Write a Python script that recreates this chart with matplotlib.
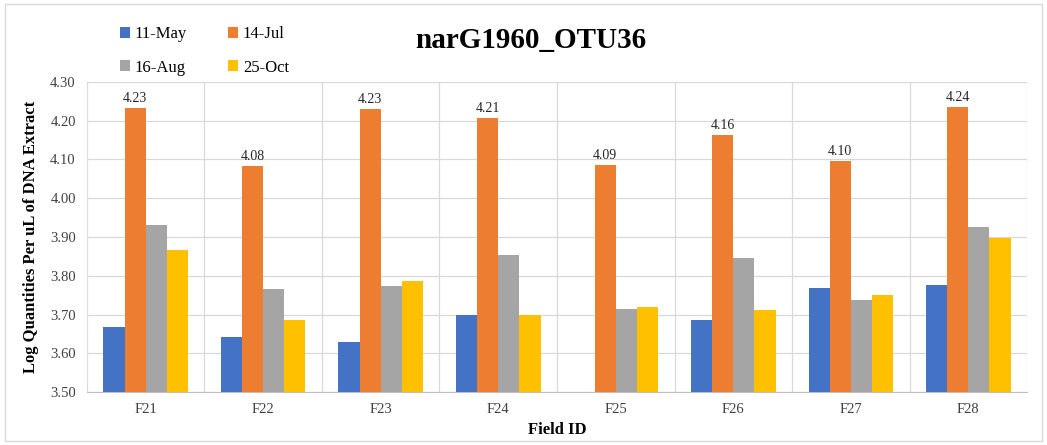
import numpy as np
import matplotlib
matplotlib.use("Agg")
import matplotlib.pyplot as plt

plt.rcParams["font.family"] = ["Liberation Serif", "DejaVu Serif"]

fields = ["F21", "F22", "F23", "F24", "F25", "F26", "F27", "F28"]
may11 = [3.668, 3.642, 3.629, 3.699, np.nan, 3.686, 3.768, 3.776]
jul14 = [4.233, 4.083, 4.230, 4.207, 4.086, 4.163, 4.096, 4.236]
aug16 = [3.931, 3.766, 3.774, 3.854, 3.714, 3.846, 3.737, 3.926]
oct25 = [3.866, 3.686, 3.786, 3.699, 3.719, 3.712, 3.750, 3.897]
series = [("11-May", may11, "#4472C4"), ("14-Jul", jul14, "#ED7D31"),
          ("16-Aug", aug16, "#A5A5A5"), ("25-Oct", oct25, "#FFC000")]
yticks = [3.50, 3.60, 3.70, 3.80, 3.90, 4.00, 4.10, 4.20, 4.30]

fig = plt.figure(figsize=(10.47, 4.45), dpi=100)
ax = fig.add_axes([0.083, 0.119, 0.898, 0.697])

x = np.arange(len(fields))
w = 0.18
base = 3.5
handles = {}
for i, (name, vals, color) in enumerate(series):
    vals = np.array(vals)
    pos = x + (i - 1.5) * w
    handles[name] = ax.bar(pos, vals - base, w, bottom=base, color=color, label=name, zorder=3)
    if name == "14-Jul":
        for p, v in zip(pos, vals):
            ax.text(p, v + 0.008, f"{v:.2f}", ha="center", va="bottom", fontsize=10, color="#262626")

ax.set_xlim(-0.5, len(fields) - 0.5)
ax.set_ylim(3.5, 4.3)
ax.set_yticks(yticks)
ax.set_yticklabels([f"{t:.2f}" for t in yticks])
ax.set_xticks(x)
ax.set_xticklabels(fields)
ax.tick_params(axis="both", length=0, labelsize=10.5, colors="#404040", pad=8)
ax.set_axisbelow(True)
ax.grid(axis="y", color="#D9D9D9", linewidth=0.9)
for xv in np.arange(-0.5, len(fields), 1.0):
    ax.axvline(xv, color="#D9D9D9", linewidth=0.9, zorder=0)
for s in ["top", "right", "left"]:
    ax.spines[s].set_visible(False)
ax.spines["bottom"].set_color("#BFBFBF")

ax.set_xlabel("Field ID", fontsize=12, fontweight="bold", labelpad=4)
ax.set_ylabel("Log Quantities Per uL of DNA Extract", fontsize=12, fontweight="bold", labelpad=8)

fig.text(0.507, 0.908, "narG1960_OTU36", ha="center", va="center", fontsize=21, fontweight="bold")
order = ["11-May", "16-Aug", "14-Jul", "25-Oct"]
fig.legend([handles[n] for n in order], order, loc="upper left", bbox_to_anchor=(0.1, 0.975),
           ncol=2, frameon=False, fontsize=12, handlelength=0.6, handleheight=0.6,
           handletextpad=0.3, columnspacing=2.45, labelspacing=1.05)

border = plt.Rectangle((0.005, 0.01), 0.99, 0.98, transform=fig.transFigure,
                       fill=False, edgecolor="#D9D9D9", linewidth=1)
fig.patches.append(border)

fig.savefig("out.png", dpi=100)
